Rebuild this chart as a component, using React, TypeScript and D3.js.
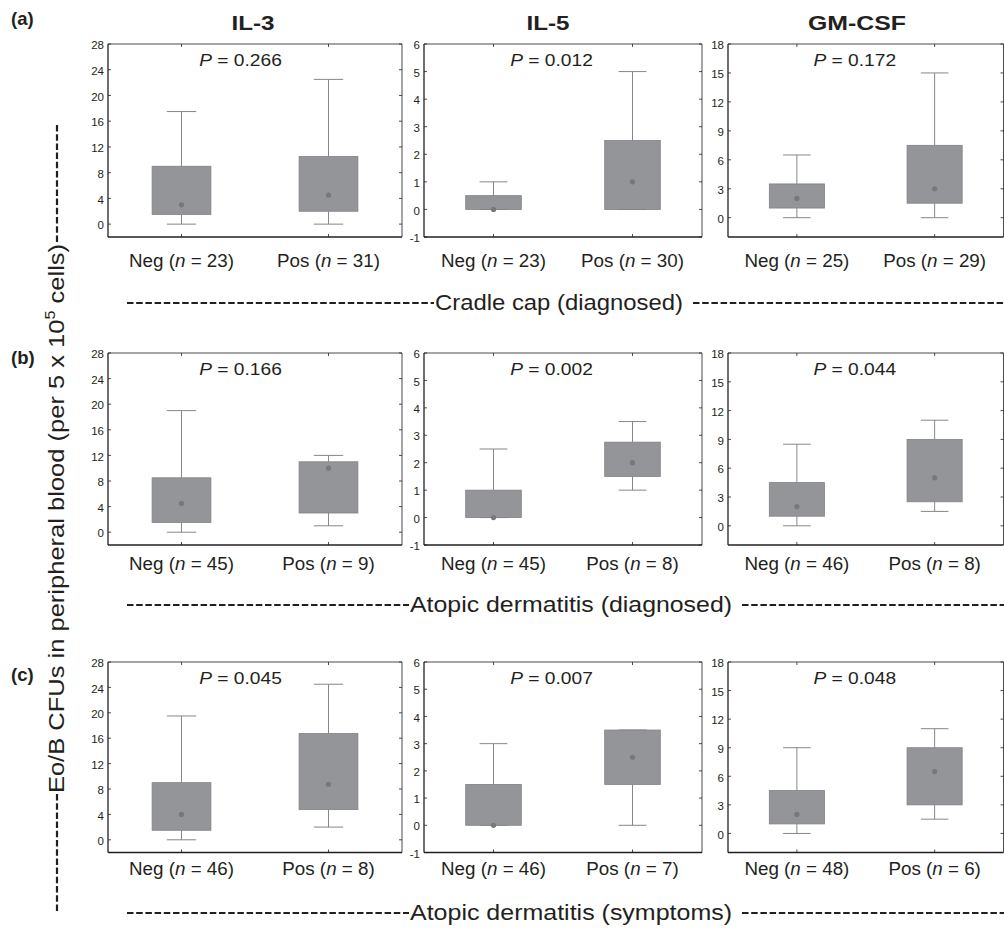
import React from "react";
import * as d3 from "d3";

// ---------- data ----------
const cytokines = ["IL-3", "IL-5", "GM-CSF"];
const conditions = ["Cradle cap (diagnosed)", "Atopic dermatitis (diagnosed)", "Atopic dermatitis (symptoms)"];
const panelLetters = ["(a)", "(b)", "(c)"];
const groups = ["Neg", "Pos"];

const yDomains = [
  [-2, 28],
  [-1, 6],
  [-2, 18],
];
const yTicks = [
  [0, 4, 8, 12, 16, 20, 24, 28],
  [-1, 0, 1, 2, 3, 4, 5, 6],
  [0, 3, 6, 9, 12, 15, 18],
];

const pValues = [
  ["0.266", "0.012", "0.172"],
  ["0.166", "0.002", "0.044"],
  ["0.045", "0.007", "0.048"],
];

const nCounts = [
  [[23, 31], [23, 30], [25, 29]],
  [[45, 9], [45, 8], [46, 8]],
  [[46, 8], [46, 7], [48, 6]],
];

// box statistics per cytokine, per group: [whisker low, Q1, median, Q3, whisker high]
const statsCradleCap = [
  [[0, 1.5, 3, 9, 17.5], [0, 2, 4.5, 10.5, 22.5]],
  [[0, 0, 0, 0.5, 1], [0, 0, 1, 2.5, 5]],
  [[0, 1, 2, 3.5, 6.5], [0, 1.5, 3, 7.5, 15]],
];
const statsADDiagnosed = [
  [[0, 1.5, 4.5, 8.5, 19], [1, 3, 10, 11, 12]],
  [[0, 0, 0, 1, 2.5], [1, 1.5, 2, 2.75, 3.5]],
  [[0, 1, 2, 4.5, 8.5], [1.5, 2.5, 5, 9, 11]],
];
const statsADSymptoms = [
  [[0, 1.5, 4, 9, 19.5], [2, 4.75, 8.75, 16.75, 24.5]],
  [[0, 0, 0, 1.5, 3], [0, 1.5, 2.5, 3.5, 3.5]],
  [[0, 1, 2, 4.5, 9], [1.5, 3, 6.5, 9, 11]],
];
const allStats = [statsCradleCap, statsADDiagnosed, statsADSymptoms];

// ---------- layout ----------
const W = 1004;
const H = 929;
const FONT = "'Liberation Sans', Arial, Helvetica, sans-serif";
const INK = "#231f20";
const cols = [
  { left: 108, width: 294, titleX: 253, titleW: 43 },
  { left: 424, width: 278, titleX: 548, titleW: 43 },
  { left: 728, width: 275.5, titleX: 857, titleW: 98 },
];
const rows = [
  { top: 44, height: 193, labelY: 267, sectionY: 310, letterY: 25, sectionX: 435, sectionW: 248 },
  { top: 353, height: 192, labelY: 570, sectionY: 612, letterY: 364, sectionX: 410, sectionW: 322 },
  { top: 662, height: 190.5, labelY: 875, sectionY: 920, letterY: 681, sectionX: 410, sectionW: 322 },
];

const BOX_FILL = "#939598";
const BOX_EDGE = "#808184";
const WHISKER = "#86878a";
const DOT = "#77787b";
const DASH = "6.5,2.7";

function Panel({ r, c }: { r: number; c: number }) {
  const col = cols[c];
  const row = rows[r];
  const x = d3.scaleLinear().domain([0.5, 2.5]).range([col.left, col.left + col.width]);
  const y = d3.scaleLinear().domain(yDomains[c]).range([row.top + row.height, row.top]);
  const left = col.left;
  const right = col.left + col.width;
  const top = row.top;
  const bottom = row.top + row.height;
  const tick = 3;
  const stats = allStats[r][c];

  return (
    <g>
      {groups.map((g, i) => {
        const [lo, q1, med, q3, hi] = stats[i];
        const cx = x(i + 1);
        const bx0 = x(i + 1 - 0.2);
        const bx1 = x(i + 1 + 0.2);
        const cx0 = x(i + 1 - 0.1);
        const cx1 = x(i + 1 + 0.1);
        return (
          <g key={g}>
            <line x1={cx} x2={cx} y1={y(lo)} y2={y(q1)} stroke={WHISKER} strokeWidth={1} />
            <line x1={cx} x2={cx} y1={y(q3)} y2={y(hi)} stroke={WHISKER} strokeWidth={1} />
            <line x1={cx0} x2={cx1} y1={y(lo)} y2={y(lo)} stroke={WHISKER} strokeWidth={1} />
            <line x1={cx0} x2={cx1} y1={y(hi)} y2={y(hi)} stroke={WHISKER} strokeWidth={1} />
            <rect
              x={bx0}
              y={y(q3)}
              width={bx1 - bx0}
              height={Math.max(0.5, y(q1) - y(q3))}
              fill={BOX_FILL}
              stroke={BOX_EDGE}
              strokeWidth={0.8}
            />
            <circle cx={cx} cy={y(med)} r={2.6} fill={DOT} />
          </g>
        );
      })}

      {/* frame */}
      <line x1={left} x2={right} y1={top} y2={top} stroke="#4a4a4a" strokeWidth={1} />
      <line x1={right} x2={right} y1={top} y2={bottom} stroke="#4a4a4a" strokeWidth={1} />
      <line x1={left} x2={right} y1={bottom} y2={bottom} stroke={INK} strokeWidth={1.3} />
      <line x1={left} x2={left} y1={top} y2={bottom} stroke={INK} strokeWidth={1.3} />

      {/* y ticks */}
      {yTicks[c].map((t) => (
        <g key={t}>
          <line x1={left} x2={left + tick} y1={y(t)} y2={y(t)} stroke={INK} strokeWidth={0.8} />
          <line x1={right} x2={right - tick} y1={y(t)} y2={y(t)} stroke={INK} strokeWidth={0.8} />
          <text x={left - 4} y={y(t) + 5.2} textAnchor="end" fontSize={11.5} fill={INK}>
            {t}
          </text>
        </g>
      ))}

      {/* x ticks + labels */}
      {groups.map((g, i) => (
        <g key={g}>
          <line x1={x(i + 1)} x2={x(i + 1)} y1={bottom} y2={bottom - tick} stroke={INK} strokeWidth={0.8} />
          <line x1={x(i + 1)} x2={x(i + 1)} y1={top} y2={top + tick} stroke={INK} strokeWidth={0.8} />
          <text x={x(i + 1)} y={row.labelY} textAnchor="middle" fontSize={18.8} fill={INK}>
            {g} (<tspan fontStyle="italic">n</tspan> = {nCounts[r][c][i]})
          </text>
        </g>
      ))}

      {/* P value */}
      <text
        transform={`translate(${x(1.12)},${top + 22}) scale(1.13,1)`}
        fontSize={17}
        fill={INK}
      >
        <tspan fontStyle="italic">P</tspan> = {pValues[r][c]}
      </text>
    </g>
  );
}

export default function App() {
  return (
    <div style={{ position: "absolute", left: 0, top: 0 }}>
      <svg width={W} height={H} style={{ display: "block", background: "#fff" }} fontFamily={FONT}>
        {/* column titles */}
        {cytokines.map((name, c) => (
          <text
            key={name}
            x={cols[c].titleX - cols[c].titleW / 2}
            y={30}
            fontSize={21}
            fontWeight="bold"
            fill={INK}
            textLength={cols[c].titleW}
            lengthAdjust="spacingAndGlyphs"
          >
            {name}
          </text>
        ))}

        {/* panel letters */}
        {panelLetters.map((l, r) => (
          <text key={l} x={11} y={rows[r].letterY} fontSize={18.5} fontWeight="bold" fill={INK}>
            {l}
          </text>
        ))}

        {/* panels */}
        {rows.map((_, r) => cols.map((__, c) => <Panel key={`${r}-${c}`} r={r} c={c} />))}

        {/* section labels with dashed leaders */}
        {conditions.map((cond, r) => {
          const row = rows[r];
          const dy = row.sectionY - 7;
          return (
            <g key={cond}>
              <line x1={127} x2={row.sectionX - 1} y1={dy} y2={dy} stroke={INK} strokeWidth={2.2} strokeDasharray={DASH} />
              <text
                x={row.sectionX}
                y={row.sectionY}
                fontSize={21.5}
                fill={INK}
                textLength={row.sectionW}
                lengthAdjust="spacingAndGlyphs"
              >
                {cond}
              </text>
              <line
                x1={row.sectionX + row.sectionW + 10}
                x2={W}
                y1={dy}
                y2={dy}
                stroke={INK}
                strokeWidth={2.2}
                strokeDasharray={DASH}
              />
            </g>
          );
        })}

        {/* y-axis title with dashed leaders */}
        <line x1={57} x2={57} y1={125} y2={243} stroke={INK} strokeWidth={2.2} strokeDasharray={DASH} />
        <line x1={57} x2={57} y1={794} y2={912} stroke={INK} strokeWidth={2.2} strokeDasharray={DASH} />
        <text
          transform={`translate(64,518.5) rotate(-90) scale(1.16,1)`}
          textAnchor="middle"
          fontSize={22}
          fill={INK}
        >
          Eo/B CFUs in peripheral blood (per 5 x 10
          <tspan fontSize={14} dy={-9}>5</tspan>
          <tspan dy={9}> cells)</tspan>
        </text>
      </svg>
    </div>
  );
}
